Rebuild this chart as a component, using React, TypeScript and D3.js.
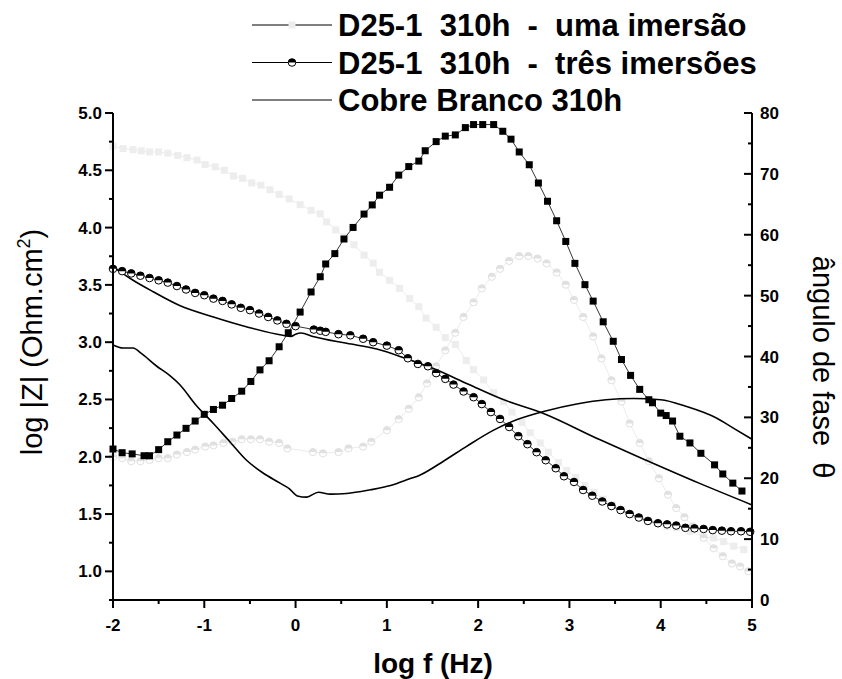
import React from 'react';
import * as d3 from 'd3';

const W = 842;
const H = 679;
const FONT = '"Liberation Sans", Arial, Helvetica, sans-serif';

// axis tick values
const xTicks = [-2, -1, 0, 1, 2, 3, 4, 5];
const xMinor = [-1.5, -0.5, 0.5, 1.5, 2.5, 3.5, 4.5];
const yLeftTicks = [1.0, 1.5, 2.0, 2.5, 3.0, 3.5, 4.0, 4.5, 5.0];
const yLeftMinor = [0.75, 1.25, 1.75, 2.25, 2.75, 3.25, 3.75, 4.25, 4.75];
const yRightTicks = [0, 10, 20, 30, 40, 50, 60, 70, 80];
const yRightMinor = [5, 15, 25, 35, 45, 55, 65, 75];

// D25-1 310h - uma imersão: log|Z| (left axis)
const zUma: [number, number][] = [
  [-2.0, 4.71], [-1.89, 4.69], [-1.78, 4.68], [-1.69, 4.67], [-1.6, 4.66], [-1.5, 4.66],
  [-1.4, 4.65], [-1.29, 4.63], [-1.19, 4.61], [-1.08, 4.59], [-0.99, 4.55], [-0.88, 4.53],
  [-0.78, 4.5], [-0.68, 4.45], [-0.58, 4.43], [-0.48, 4.39], [-0.38, 4.37], [-0.28, 4.33],
  [-0.18, 4.29], [-0.07, 4.25], [0.05, 4.2], [0.17, 4.15], [0.27, 4.12], [0.34, 4.05],
  [0.44, 3.98], [0.54, 3.92], [0.64, 3.85], [0.75, 3.76], [0.85, 3.69], [0.92, 3.61],
  [1.03, 3.54], [1.14, 3.47], [1.25, 3.38], [1.35, 3.31], [1.43, 3.21], [1.54, 3.13],
  [1.64, 3.04], [1.75, 2.98], [1.87, 2.84], [1.95, 2.76], [2.06, 2.67], [2.17, 2.56],
  [2.28, 2.48], [2.37, 2.39], [2.48, 2.3], [2.57, 2.21], [2.68, 2.12], [2.77, 2.04],
  [2.88, 1.95], [2.97, 1.88], [3.07, 1.82], [3.17, 1.75], [3.27, 1.69], [3.37, 1.63],
  [3.47, 1.58], [3.57, 1.54], [3.67, 1.5], [3.77, 1.47], [3.87, 1.44], [3.96, 1.42],
  [4.07, 1.39], [4.17, 1.38], [4.32, 1.35], [4.47, 1.3], [4.58, 1.29], [4.69, 1.26],
  [4.8, 1.22], [4.91, 1.19],
];

// D25-1 310h - uma imersão: phase angle in degrees (right axis)
const faseUma: [number, number][] = [
  [-2.0, 23.5], [-1.9, 23.3], [-1.8, 22.8], [-1.7, 22.8], [-1.6, 23.0], [-1.5, 23.3],
  [-1.4, 23.3], [-1.3, 23.9], [-1.19, 24.3], [-1.1, 24.7], [-0.99, 25.2], [-0.9, 25.4],
  [-0.79, 25.8], [-0.69, 26.0], [-0.59, 26.4], [-0.49, 26.4], [-0.39, 26.4], [-0.29, 26.0],
  [-0.18, 25.8], [-0.09, 24.9], [0.19, 24.3], [0.3, 24.1], [0.47, 24.3], [0.58, 24.9],
  [0.74, 25.2], [0.83, 26.0], [1.0, 27.9], [1.13, 29.7], [1.24, 31.4], [1.35, 33.3],
  [1.44, 35.6], [1.54, 38.4], [1.64, 41.0], [1.75, 43.9], [1.84, 46.5], [1.95, 48.9],
  [2.04, 51.2], [2.15, 53.1], [2.24, 54.4], [2.34, 55.7], [2.45, 56.5], [2.55, 56.5],
  [2.65, 56.1], [2.75, 55.3], [2.86, 53.8], [2.96, 51.8], [3.05, 49.3], [3.15, 46.5],
  [3.26, 43.3], [3.35, 39.7], [3.46, 36.1], [3.57, 32.6], [3.66, 29.0], [3.77, 25.8],
  [3.87, 22.8], [3.98, 20.0], [4.08, 17.3], [4.17, 15.1], [4.26, 13.6], [4.35, 12.1],
  [4.47, 10.2], [4.58, 8.5], [4.68, 7.2], [4.78, 6.0], [4.87, 5.5], [4.96, 4.7],
];

// D25-1 310h - três imersões: log|Z| (left axis)
const zTres: [number, number][] = [
  [-2.0, 3.64], [-1.9, 3.62], [-1.8, 3.6], [-1.7, 3.58], [-1.6, 3.56], [-1.5, 3.54],
  [-1.4, 3.52], [-1.3, 3.49], [-1.2, 3.46], [-1.1, 3.43], [-1.0, 3.41], [-0.9, 3.38],
  [-0.8, 3.36], [-0.7, 3.33], [-0.6, 3.3], [-0.5, 3.28], [-0.4, 3.25], [-0.3, 3.22],
  [-0.2, 3.19], [-0.1, 3.16], [0.0, 3.14], [0.2, 3.11], [0.27, 3.1], [0.33, 3.09],
  [0.47, 3.07], [0.6, 3.06], [0.74, 3.03], [0.85, 3.0], [1.0, 2.97], [1.13, 2.93],
  [1.23, 2.86], [1.34, 2.81], [1.45, 2.79], [1.54, 2.73], [1.64, 2.68], [1.73, 2.63],
  [1.84, 2.57], [1.95, 2.52], [2.04, 2.46], [2.14, 2.39], [2.24, 2.33], [2.34, 2.26],
  [2.44, 2.18], [2.54, 2.11], [2.64, 2.04], [2.74, 1.97], [2.85, 1.9], [2.94, 1.83],
  [3.05, 1.78], [3.15, 1.71], [3.25, 1.66], [3.36, 1.61], [3.46, 1.57], [3.56, 1.535],
  [3.66, 1.5], [3.76, 1.47], [3.86, 1.44], [3.97, 1.42], [4.07, 1.41], [4.17, 1.4],
  [4.27, 1.38], [4.37, 1.375], [4.47, 1.37], [4.57, 1.36], [4.67, 1.355], [4.77, 1.35],
  [4.88, 1.35], [4.98, 1.345],
];

// D25-1 310h - três imersões: phase angle in degrees (right axis)
const faseTres: [number, number][] = [
  [-2.0, 24.8], [-1.9, 24.2], [-1.79, 24.0], [-1.66, 23.7], [-1.6, 23.7], [-1.5, 24.7],
  [-1.4, 26.0], [-1.3, 27.1], [-1.2, 28.2], [-1.1, 29.4], [-1.0, 30.5], [-0.9, 31.3],
  [-0.8, 32.0], [-0.7, 33.1], [-0.59, 34.3], [-0.49, 35.9], [-0.39, 37.8], [-0.29, 39.3],
  [-0.18, 41.6], [-0.08, 43.9], [0.05, 47.3], [0.17, 50.6], [0.27, 53.1], [0.33, 55.2],
  [0.43, 56.9], [0.53, 59.3], [0.63, 61.2], [0.75, 63.4], [0.84, 64.9], [0.92, 66.5],
  [1.03, 67.8], [1.13, 69.8], [1.24, 71.2], [1.35, 72.1], [1.42, 73.8], [1.54, 75.3],
  [1.64, 76.2], [1.75, 76.4], [1.86, 77.6], [1.95, 78.1], [2.05, 78.1], [2.17, 78.1],
  [2.27, 77.0], [2.36, 75.7], [2.45, 73.6], [2.56, 71.5], [2.66, 68.5], [2.76, 65.5],
  [2.86, 62.3], [2.96, 58.9], [3.06, 55.3], [3.17, 51.8], [3.26, 49.1], [3.37, 45.7],
  [3.48, 42.5], [3.57, 39.5], [3.67, 36.9], [3.77, 34.6], [3.87, 32.9], [3.91, 32.4],
  [4.0, 30.7], [4.06, 30.3], [4.13, 29.4], [4.21, 26.9], [4.32, 25.8], [4.44, 24.1],
  [4.59, 22.2], [4.68, 20.7], [4.79, 19.2], [4.89, 17.9],
];

// Cobre Branco 310h: log|Z| (left axis)
const zCobre: [number, number][] = [
  [-2.0, 3.66], [-1.78, 3.54], [-1.56, 3.44], [-1.27, 3.32], [-0.9, 3.22], [-0.54, 3.135],
  [-0.14, 3.06], [-0.05, 3.05], [0.0, 3.07], [0.06, 3.08], [0.19, 3.05], [0.56, 2.99],
  [0.89, 2.94], [1.2, 2.86], [1.51, 2.77], [1.9, 2.63], [2.24, 2.51], [2.71, 2.38],
  [3.33, 2.15], [3.84, 1.97], [4.42, 1.77], [5.0, 1.58],
];

// Cobre Branco 310h: phase angle in degrees (right axis)
const faseCobre: [number, number][] = [
  [-2.0, 41.9], [-1.89, 41.4], [-1.78, 41.4], [-1.69, 40.5], [-1.52, 38.4], [-1.38, 36.9],
  [-1.27, 35.4], [-1.09, 32.0], [-0.9, 29.0], [-0.72, 26.0], [-0.54, 23.0], [-0.36, 20.9],
  [-0.17, 19.2], [-0.07, 18.3], [0.02, 17.1], [0.12, 16.9], [0.25, 17.7], [0.38, 17.4],
  [0.56, 17.5], [0.82, 18.1], [1.04, 18.8], [1.25, 19.9], [1.36, 20.5], [1.62, 22.8],
  [1.87, 25.2], [2.17, 27.9], [2.42, 29.6], [2.75, 31.1], [3.08, 32.2], [3.4, 32.9],
  [3.7, 33.1], [4.0, 32.9], [4.28, 31.8], [4.61, 29.9], [4.8, 28.2], [5.0, 26.4],
];

const legendLabels = [
  'D25-1  310h  -  uma imersão',
  'D25-1  310h  -  três imersões',
  'Cobre Branco 310h',
];

const x = d3.scaleLinear().domain([-2, 5]).range([113, 752]);
const yL = d3.scaleLinear().domain([0.75, 5]).range([600, 113]);
const yR = d3.scaleLinear().domain([0, 80]).range([600, 113]);

const LIGHT_FILL = '#ededed';
const LIGHT_STROKE = '#e6e6e6';

function halfCircle(cx: number, cy: number, r: number) {
  return `M${cx - r},${cy}A${r},${r} 0 0 1 ${cx + r},${cy}Z`;
}

function HalfDot({ cx, cy, r, dark }: { cx: number; cy: number; r: number; dark: string }) {
  return (
    <g>
      <circle cx={cx} cy={cy} r={r} fill="#fff" stroke={dark} strokeWidth={1} />
      <path d={halfCircle(cx, cy, r)} fill={dark} />
    </g>
  );
}

export default function App() {
  const lineL = d3.line<[number, number]>().x(d => x(d[0])).y(d => yL(d[1]));
  const lineR = d3.line<[number, number]>().x(d => x(d[0])).y(d => yR(d[1]));
  const smoothL = d3.line<[number, number]>().x(d => x(d[0])).y(d => yL(d[1])).curve(d3.curveMonotoneX);
  const smoothR = d3.line<[number, number]>().x(d => x(d[0])).y(d => yR(d[1])).curve(d3.curveMonotoneX);

  const sq = 7;
  const tickFont = { fontFamily: FONT, fontWeight: 700, fontSize: 17 } as const;

  return (
    <svg width={W} height={H} style={{ position: 'absolute', left: 0, top: 0, background: '#fff' }}>
      <rect width={W} height={H} fill="#fff" />

      {/* uma imersão: light grey squares for |Z| */}
      <path d={lineL(zUma) || ''} fill="none" stroke={LIGHT_STROKE} strokeWidth={0.8} />
      {zUma.map((d, i) => (
        <rect key={'zu' + i} x={x(d[0]) - sq / 2} y={yL(d[1]) - sq / 2} width={sq} height={sq} fill={LIGHT_FILL} />
      ))}

      {/* uma imersão: light grey half-filled circles for phase */}
      <path d={lineR(faseUma) || ''} fill="none" stroke={LIGHT_STROKE} strokeWidth={0.8} />
      {faseUma.map((d, i) => (
        <HalfDot key={'fu' + i} cx={x(d[0])} cy={yR(d[1])} r={3.6} dark="#e0e0e0" />
      ))}

      {/* Cobre Branco: solid lines */}
      <path d={smoothL(zCobre) || ''} fill="none" stroke="#000" strokeWidth={1.6} />
      <path d={smoothR(faseCobre) || ''} fill="none" stroke="#000" strokeWidth={1.6} />

      {/* três imersões: black half-filled circles for |Z| */}
      <path d={lineL(zTres) || ''} fill="none" stroke="#000" strokeWidth={0.8} />
      {zTres.map((d, i) => (
        <HalfDot key={'zt' + i} cx={x(d[0])} cy={yL(d[1])} r={3.8} dark="#000" />
      ))}

      {/* três imersões: black squares for phase */}
      <path d={lineR(faseTres) || ''} fill="none" stroke="#000" strokeWidth={0.8} />
      {faseTres.map((d, i) => (
        <rect key={'ft' + i} x={x(d[0]) - sq / 2} y={yR(d[1]) - sq / 2} width={sq} height={sq} fill="#000" />
      ))}

      {/* bottom axis */}
      <line x1={x(-2)} x2={x(5)} y1={600} y2={600} stroke="#000" strokeWidth={2} />
      {xTicks.map(t => (
        <g key={'xt' + t}>
          <line x1={x(t)} x2={x(t)} y1={600} y2={608} stroke="#000" strokeWidth={2} />
          <text x={x(t)} y={631} textAnchor="middle" {...tickFont}>{t}</text>
        </g>
      ))}
      {xMinor.map(t => (
        <line key={'xm' + t} x1={x(t)} x2={x(t)} y1={600} y2={604} stroke="#000" strokeWidth={2} />
      ))}

      {/* left axis */}
      <line x1={113} x2={113} y1={yL(5)} y2={601} stroke="#000" strokeWidth={2} />
      {yLeftTicks.map(t => (
        <g key={'yl' + t}>
          <line x1={105} x2={113} y1={yL(t)} y2={yL(t)} stroke="#000" strokeWidth={2} />
          <text x={102} y={yL(t) + 6} textAnchor="end" {...tickFont}>{t.toFixed(1)}</text>
        </g>
      ))}
      {yLeftMinor.map(t => (
        <line key={'ylm' + t} x1={109} x2={113} y1={yL(t)} y2={yL(t)} stroke="#000" strokeWidth={2} />
      ))}

      {/* right axis */}
      <line x1={752} x2={752} y1={yR(80)} y2={601} stroke="#000" strokeWidth={2} />
      {yRightTicks.map(t => (
        <g key={'yr' + t}>
          <line x1={744} x2={752} y1={yR(t)} y2={yR(t)} stroke="#000" strokeWidth={2} />
          <text x={760} y={yR(t) + 6} textAnchor="start" {...tickFont}>{t}</text>
        </g>
      ))}
      {yRightMinor.map(t => (
        <line key={'yrm' + t} x1={748} x2={752} y1={yR(t)} y2={yR(t)} stroke="#000" strokeWidth={2} />
      ))}

      {/* axis titles */}
      <text x={433} y={673} textAnchor="middle" fontFamily={FONT} fontWeight={700} fontSize={28}>log f (Hz)</text>
      <text transform="translate(42,342) rotate(-90)" textAnchor="middle" fontFamily={FONT} fontSize={29}>
        log |Z| (Ohm.cm<tspan fontSize={18} dy={-12}>2</tspan><tspan dy={12}>)</tspan>
      </text>
      <text transform="translate(813,367) rotate(90)" textAnchor="middle" fontFamily={FONT} fontSize={29}
        style={{ whiteSpace: 'pre' }}>
        {'ângulo de fase  θ'}
      </text>

      {/* legend */}
      {legendLabels.map((label, i) => {
        const cy = 25 + i * 37.5;
        return (
          <g key={'lg' + i}>
            <line x1={252} x2={332} y1={cy} y2={cy} stroke="#000" strokeWidth={1.2} />
            {i === 0 && <rect x={292 - sq / 2} y={cy - sq / 2} width={sq} height={sq} fill={LIGHT_FILL} />}
            {i === 1 && <HalfDot cx={292} cy={cy} r={3.8} dark="#000" />}
            <text x={338} y={cy + 11} fontFamily={FONT} fontWeight={700} fontSize={31}
              style={{ whiteSpace: 'pre' }}>{label}</text>
          </g>
        );
      })}
    </svg>
  );
}
